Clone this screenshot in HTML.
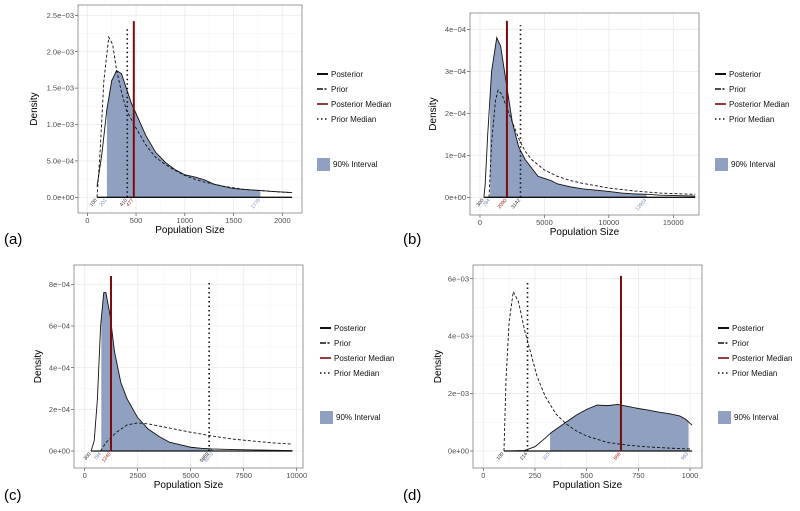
<!DOCTYPE html>
<html><head><meta charset="utf-8"><style>
html,body{margin:0;padding:0;background:#fff}
svg{display:block;font-family:"Liberation Sans",sans-serif}
</style></head><body>
<svg id="fig" width="800" height="511" viewBox="0 0 800 511"></svg>
<script>
// ---- data: panel (a) ----
const aPostX=[100,150,200,250,300,350,400,450,500,600,700,800,900,1000,1100,1200,1300,1400,1500,1700,1900,2100];
const aPostY=[0.15e-3,0.6e-3,1.2e-3,1.6e-3,1.74e-3,1.7e-3,1.5e-3,1.3e-3,1.15e-3,0.85e-3,0.62e-3,0.48e-3,0.38e-3,0.31e-3,0.28e-3,0.24e-3,0.18e-3,0.15e-3,0.12e-3,0.1e-3,0.08e-3,0.065e-3];
const aPriX=[100,130,170,220,260,300,350,400,500,600,700,800,900,1000,1100,1200,1400,1600,1800,2000,2100];
const aPriY=[0,0.6e-3,1.6e-3,2.2e-3,2.1e-3,1.75e-3,1.45e-3,1.2e-3,0.95e-3,0.72e-3,0.55e-3,0.45e-3,0.37e-3,0.3e-3,0.25e-3,0.21e-3,0.15e-3,0.11e-3,0.09e-3,0.07e-3,0.065e-3];
const aMarks=[100,201,410,477,1775];
const aXTicks=[0,500,1000,1500,2000];
const aYTicks=[0,5e-4,1e-3,1.5e-3,2e-3,2.5e-3];
const aYLabels=["0.0e+00","5.0e−04","1.0e−03","1.5e−03","2.0e−03","2.5e−03"];
// ---- data: panel (b) ----
const bPostX=[300,400,600,900,1300,1600,2000,2500,3000,3500,4000,4500,5000,5500,6000,7000,8000,9000,10000,11000,12000,13000,14000,16700];
const bPostY=[0,0.3e-4,1.5e-4,3.0e-4,3.8e-4,3.6e-4,2.8e-4,1.8e-4,1.2e-4,0.9e-4,0.7e-4,0.5e-4,0.45e-4,0.4e-4,0.32e-4,0.25e-4,0.2e-4,0.17e-4,0.14e-4,0.1e-4,0.08e-4,0.07e-4,0.05e-4,0.03e-4];
const bPriX=[700,900,1200,1400,1700,2000,2500,3000,3500,4000,5000,6000,7000,8000,10000,12000,14000,16700];
const bPriY=[0,1.3e-4,2.3e-4,2.55e-4,2.45e-4,2.2e-4,1.8e-4,1.4e-4,1.1e-4,0.9e-4,0.65e-4,0.5e-4,0.4e-4,0.33e-4,0.22e-4,0.15e-4,0.1e-4,0.07e-4];
const bMarks=[300,784,2090,3142,12924];
const bXTicks=[0,5000,10000,15000];
const bYTicks=[0,1e-4,2e-4,3e-4,4e-4];
const bYLabels=["0e+00","1e−04","2e−04","3e−04","4e−04"];
// ---- data: panel (c) ----
const cPostX=[300,450,600,750,900,1000,1200,1400,1700,2000,2500,3000,3500,4000,4500,5000,5500,6000,7000,8000,9000,9800];
const cPostY=[0,0.5e-4,2.5e-4,6.0e-4,7.6e-4,7.6e-4,6.5e-4,4.8e-4,3.3e-4,2.5e-4,1.6e-4,1.05e-4,0.7e-4,0.42e-4,0.3e-4,0.18e-4,0.13e-4,0.1e-4,0.07e-4,0.05e-4,0.03e-4,0.02e-4];
const cPriX=[750,1000,1500,2000,2500,3000,4000,5000,6000,7000,8000,9000,9800];
const cPriY=[0,0.4e-4,0.9e-4,1.25e-4,1.35e-4,1.3e-4,1.1e-4,0.9e-4,0.72e-4,0.57e-4,0.47e-4,0.38e-4,0.33e-4];
const cMarks=[300,784,1240,5869,6070];
const cXTicks=[0,2500,5000,7500,10000];
const cYTicks=[0,2e-4,4e-4,6e-4,8e-4];
const cYLabels=["0e+00","2e−04","4e−04","6e−04","8e−04"];
// ---- data: panel (d) ----
const dPostX=[100,200,250,300,330,400,450,500,550,600,650,700,750,800,850,900,950,980,1010];
const dPostY=[0,0.02e-3,0.15e-3,0.45e-3,0.65e-3,1.0e-3,1.25e-3,1.45e-3,1.6e-3,1.58e-3,1.62e-3,1.55e-3,1.48e-3,1.42e-3,1.35e-3,1.3e-3,1.22e-3,1.1e-3,0.9e-3];
const dPriX=[100,110,125,145,170,200,230,260,300,350,400,450,500,600,700,800,900,1000];
const dPriY=[0,2.5e-3,4.5e-3,5.55e-3,5.2e-3,4.2e-3,3.4e-3,2.6e-3,1.9e-3,1.3e-3,0.95e-3,0.7e-3,0.52e-3,0.3e-3,0.2e-3,0.14e-3,0.1e-3,0.07e-3];
const dMarks=[100,214,323,666,993];
const dXTicks=[0,250,500,750,1000];
const dYTicks=[0,2e-3,4e-3,6e-3];
const dYLabels=["0e+00","2e−03","4e−03","6e−03"];

const NS="http://www.w3.org/2000/svg";
const svg=document.getElementById('fig');
function mk(tag,attrs,parent,text){const e=document.createElementNS(NS,tag);for(const k in attrs)e.setAttribute(k,attrs[k]);if(text!==undefined)e.textContent=text;(parent||svg).appendChild(e);return e;}
function interp(xs,ys,x){if(x<=xs[0])return ys[0];for(let i=1;i<xs.length;i++){if(x<=xs[i]){const t=(x-xs[i-1])/(xs[i]-xs[i-1]);return ys[i-1]+t*(ys[i]-ys[i-1]);}}return ys[ys.length-1];}

function panel(c){
  const g=mk('g',{});
  
  
  const X=v=>c.x0px+(v-c.x0v)*(c.x1px-c.x0px)/(c.x1v-c.x0v);
  const Y=v=>c.y0px+(v-0)*(c.y1px-c.y0px)/(c.y1v);
  mk('rect',{x:c.L,y:c.T,width:c.R-c.L,height:c.B-c.T,fill:'#fff'},g);
  // minor grid
  const xs=c.xt, ys=c.yt;
  for(let i=0;i<xs.length;i++){const m=i<xs.length-1?(xs[i]+xs[i+1])/2:xs[i]+(xs[1]-xs[0])/2;const px=X(m);if(px<c.R)mk('line',{x1:px,x2:px,y1:c.T,y2:c.B,stroke:'#f2f2f2','stroke-width':0.5},g);}
  {const px=X(xs[0]-(xs[1]-xs[0])/2);if(px>c.L)mk('line',{x1:px,x2:px,y1:c.T,y2:c.B,stroke:'#f2f2f2','stroke-width':0.5},g);}
  for(let i=0;i<ys.length;i++){const m=ys[i]+(ys[1]-ys[0])/2;const py=Y(m);if(py>c.T)mk('line',{x1:c.L,x2:c.R,y1:py,y2:py,stroke:'#f2f2f2','stroke-width':0.5},g);}
  {const py=Y(-(ys[1]-ys[0])/2);if(py<c.B)mk('line',{x1:c.L,x2:c.R,y1:py,y2:py,stroke:'#f2f2f2','stroke-width':0.5},g);}
  // major grid + ticks
  xs.forEach(v=>{const px=X(v);mk('line',{x1:px,x2:px,y1:c.T,y2:c.B,stroke:'#ebebeb','stroke-width':0.8},g);mk('line',{x1:px,x2:px,y1:c.B,y2:c.B+3,stroke:'#333','stroke-width':0.6},g);
    const t=mk('text',{x:px,y:c.B+10,'font-size':7.5,fill:'#4d4d4d','text-anchor':'middle'},g,String(v));});
  ys.forEach((v,i)=>{const py=Y(v);mk('line',{x1:c.L,x2:c.R,y1:py,y2:py,stroke:'#ebebeb','stroke-width':0.8},g);mk('line',{x1:c.L-3,x2:c.L,y1:py,y2:py,stroke:'#333','stroke-width':0.6},g);
    const t=mk('text',{x:c.L-4,y:py+2.6,'font-size':7.5,fill:'#4d4d4d','text-anchor':'end'},g,c.yl[i]);});
  // interval fill
  const lo=c.marks[c.loIdx], hi=c.marks[c.hiIdx];
  let pts=[[X(lo),Y(0)],[X(lo),Y(interp(c.px,c.py,lo))]];
  c.px.forEach((v,i)=>{if(v>lo&&v<hi)pts.push([X(v),Y(c.py[i])]);});
  pts.push([X(hi),Y(interp(c.px,c.py,hi))],[X(hi),Y(0)]);
  const fill=mk('polygon',{points:pts.map(p=>p.join(',')).join(' '),fill:'#8fa0c0'},g);
  
  // baseline
  mk('line',{x1:X(c.px[0]),x2:X(c.px[c.px.length-1]),y1:Y(0),y2:Y(0),stroke:'#111','stroke-width':1.3},g);
  // prior
  const pr=mk('polyline',{points:c.qx.map((v,i)=>X(v)+','+Y(c.qy[i])).join(' '),fill:'none',stroke:'#111','stroke-width':0.9,'stroke-dasharray':'3,2'},g);
  
  // posterior
  const po=mk('polyline',{points:c.px.map((v,i)=>X(v)+','+Y(c.py[i])).join(' '),fill:'none',stroke:'#111','stroke-width':0.9},g);
  
  // medians
  const pm=mk('line',{x1:X(c.marks[c.priIdx]),x2:X(c.marks[c.priIdx]),y1:Y(0),y2:Y(c.priTop),stroke:'#111','stroke-width':1.6,'stroke-dasharray':'1.5,3'},g);
  
  const qm=mk('line',{x1:X(c.marks[c.postIdx]),x2:X(c.marks[c.postIdx]),y1:Y(0),y2:Y(c.postTop),stroke:'#7a0c0c','stroke-width':2},g);
  
  // mark labels
  c.marks.forEach((v,i)=>{const col=c.mcol[i];const px=X(v),py=Y(0)+3;
    const t=mk('text',{x:px,y:py,'font-size':5,fill:col,'text-anchor':'end',transform:`rotate(-50 ${px} ${py})`},g,String(v));
    });
  // border
  mk('rect',{x:c.L,y:c.T,width:c.R-c.L,height:c.B-c.T,fill:'none',stroke:'#7f7f7f','stroke-width':0.8},g);
  // titles
  const xt=mk('text',{x:(c.L+c.R)/2,y:c.B+20,'font-size':10,fill:'#000','text-anchor':'middle'},g,'Population Size');
  
  const yx=c.yTitleX, yy=(c.T+c.B)/2;
  const yt=mk('text',{x:yx,y:yy,'font-size':10,fill:'#000','text-anchor':'middle',transform:`rotate(-90 ${yx} ${yy})`},g,'Density');
  
  const pl=mk('text',{x:c.labX,y:c.labY,'font-size':15,fill:'#000'},g,'('+c.id+')');
  
  // legend
  const lg=mk('g',{},g);
  const names=['Posterior','Prior','Posterior Median','Prior Median'];
  names.forEach((n,i)=>{const y=c.legY+i*15;
    const st={stroke:i==2?'#7a0c0c':'#111','stroke-width':i==0?2:1.6};
    if(i==1)st['stroke-dasharray']='6,1.5,2,1.5';
    if(i==3)st['stroke-dasharray']='1.5,2.5';
    mk('line',Object.assign({x1:c.legX,x2:c.legX+11,y1:y,y2:y},st),lg);
    const t=mk('text',{x:c.legX+14,y:y+3,'font-size':8,fill:'#111'},lg,n);
    });
  mk('rect',{x:c.legX,y:c.boxY,width:13,height:13,fill:'#8fa0c0'},lg);
  const it=mk('text',{x:c.legX+16,y:c.boxY+9,'font-size':8,fill:'#111'},lg,'90% Interval');
  
}
const BL='#6f84b3',RD='#a11',BK='#222';
panel({id:'a',L:78,R:302,T:5,B:213,x0v:0,x0px:87.3,x1v:2000,x1px:282.3,y0px:197.3,y1px:15.3,y1v:2.5e-3,
  xt:aXTicks,yt:aYTicks,yl:aYLabels,px:aPostX,py:aPostY,qx:aPriX,qy:aPriY,marks:aMarks,mcol:[BK,BL,BK,RD,BL],
  loIdx:1,hiIdx:4,priIdx:2,postIdx:3,priTop:2.35e-3,postTop:2.42e-3,yTitleX:37,labX:4,labY:244,legX:317,legY:74,boxY:158});
panel({id:'b',L:470,R:699,T:13,B:215,x0v:0,x0px:480,x1v:15000,x1px:673.3,y0px:197.3,y1px:29.3,y1v:4e-4,
  xt:bXTicks,yt:bYTicks,yl:bYLabels,px:bPostX,py:bPostY,qx:bPriX,qy:bPriY,marks:bMarks,mcol:[BK,BL,RD,BK,BL],
  loIdx:1,hiIdx:4,priIdx:3,postIdx:2,priTop:4.1e-4,postTop:4.2e-4,yTitleX:436,labX:403,labY:244,legX:715,legY:74,boxY:158});
panel({id:'c',L:74,R:303,T:265,B:468,x0v:0,x0px:84.7,x1v:10000,x1px:296.7,y0px:451,y1px:284.3,y1v:8e-4,
  xt:cXTicks,yt:cYTicks,yl:cYLabels,px:cPostX,py:cPostY,qx:cPriX,qy:cPriY,marks:cMarks,mcol:[BK,BL,RD,BK,BL],
  loIdx:1,hiIdx:4,priIdx:3,postIdx:2,priTop:8.2e-4,postTop:8.4e-4,yTitleX:41,labX:4,labY:500,legX:320,legY:328,boxY:411});
panel({id:'d',L:473,R:702,T:265,B:468,x0v:0,x0px:483.3,x1v:1000,x1px:690,y0px:451,y1px:278.7,y1v:6e-3,
  xt:dXTicks,yt:dYTicks,yl:dYLabels,px:dPostX,py:dPostY,qx:dPriX,qy:dPriY,marks:dMarks,mcol:[BK,BK,BL,RD,BL],
  loIdx:2,hiIdx:4,priIdx:1,postIdx:3,priTop:5.95e-3,postTop:6.1e-3,yTitleX:441,labX:403,labY:500,legX:718,legY:328,boxY:411});
</script>
</body></html>
